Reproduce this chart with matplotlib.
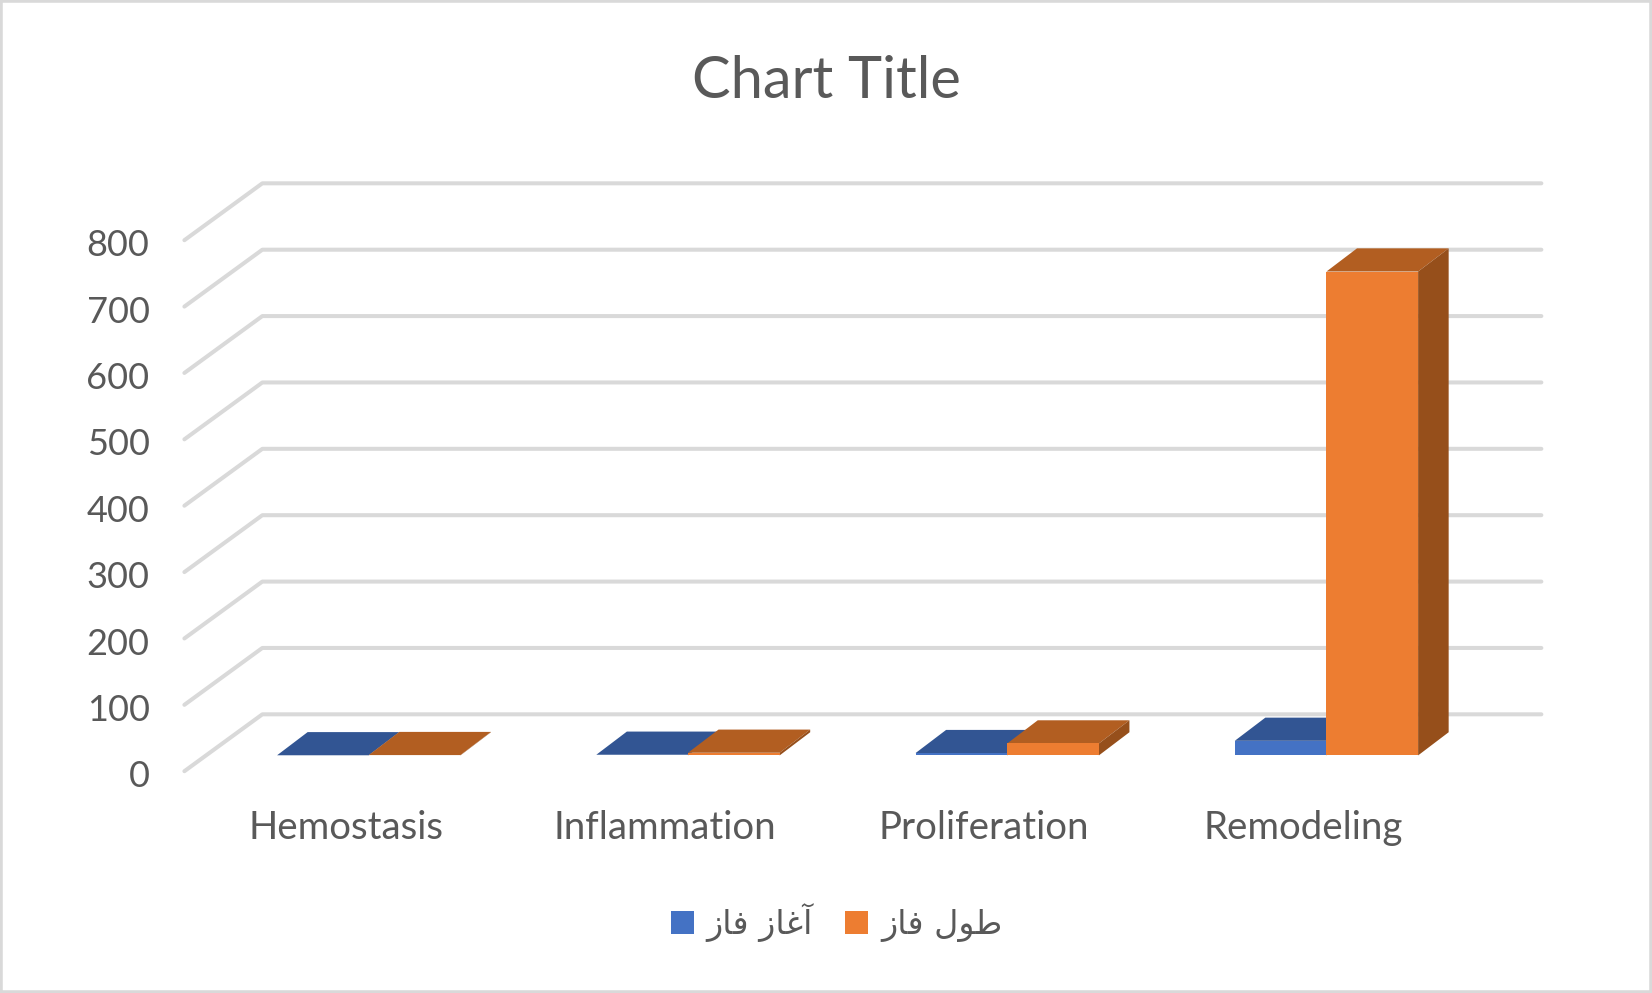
import matplotlib
matplotlib.use("Agg")
import matplotlib.pyplot as plt
from matplotlib.patches import Polygon, Rectangle

categories = ["Hemostasis", "Inflammation", "Proliferation", "Remodeling"]
start_values = [0.2, 1, 3.5, 22]
length_values = [0.5, 4, 18, 729]
y_ticks = [0, 100, 200, 300, 400, 500, 600, 700, 800]
# Persian labels in shaped presentation forms, visual order (matplotlib does no Arabic shaping)
series_labels = ["\ufeaf\ufe8e\ufed3 \ufeaf\ufe8e\ufecf\ufe81", "\ufeaf\ufe8e\ufed3 \ufedd\ufeee\ufec3"]
title_text = "Chart Title"

W, H = 1652, 993
REF = W / 1568          # reference layout measured on a 1568-wide view
PX_X = 303.0            # layout units per category
PX_Y = 0.63             # layout units per value
X0, Y0 = 350.0, 717.0   # position of category 0 / value 0 on the bar plane

def fx(d): return (d - X0) / PX_X
def fy(d): return (Y0 - d) / PX_Y

bar_w = 87 / PX_X
bar_dx, bar_dy = 29 / PX_X, 22 / PX_Y
wall_x0, wall_x1 = fx(249), fx(1463)
floor_x0 = fx(175)
wall_off = fy(678)
front_off = fy(732)
label_off = fy(734.5)

BLUE, BLUE_TOP, BLUE_SIDE = "#4472C4", "#325593", "#284477"
ORANGE, ORANGE_TOP, ORANGE_SIDE = "#ED7D31", "#B25E21", "#964F1B"
GRID = "#D9D9D9"
TEXT = "#595959"

fig = plt.figure(figsize=(W / 100, H / 100), dpi=100, facecolor="white")
L, R, T, B = 175, 1463, 174, 745
ax = fig.add_axes([L * REF / W, 1 - B * REF / H, (R - L) * REF / W, (B - T) * REF / H])
ax.patch.set_visible(False)
for s in ax.spines.values():
    s.set_visible(False)

for v in y_ticks:
    ax.plot([floor_x0, wall_x0, wall_x1], [v + front_off, v + wall_off, v + wall_off],
            color=GRID, lw=2.9, solid_capstyle="round", solid_joinstyle="round",
            clip_on=False, zorder=1)

def bar3d(xs, values, front, top, side, z):
    ax.bar(xs, values, width=bar_w, align="edge", color=front, linewidth=0, zorder=z + 0.2)
    for x, v in zip(xs, values):
        ax.add_patch(Polygon([(x, v), (x + bar_w, v), (x + bar_w + bar_dx, v + bar_dy), (x + bar_dx, v + bar_dy)],
                             closed=True, facecolor=top, edgecolor="none", zorder=z))
        ax.add_patch(Polygon([(x + bar_w, 0), (x + bar_w + bar_dx, bar_dy), (x + bar_w + bar_dx, v + bar_dy), (x + bar_w, v)],
                             closed=True, facecolor=side, edgecolor="none", zorder=z + 0.1))

pos = list(range(len(categories)))
bar3d([p - bar_w for p in pos], start_values, BLUE, BLUE_TOP, BLUE_SIDE, 2)
bar3d(pos, length_values, ORANGE, ORANGE_TOP, ORANGE_SIDE, 3)

ax.set_yticks([v + label_off for v in y_ticks], [str(v) for v in y_ticks])
ax.set_xticks([p - 22 / PX_X for p in pos], categories)
ax.set_xlim(fx(L), fx(R))
ax.set_ylim(fy(B), fy(T))
ax.tick_params(axis="y", length=0, pad=33 * REF * 0.72, labelsize=26, labelcolor=TEXT)
ax.tick_params(axis="x", length=0, pad=24 * REF * 0.72, labelsize=27.6, labelcolor=TEXT)
for lab in ax.get_xticklabels() + ax.get_yticklabels():
    lab.set_fontfamily(["Lato", "DejaVu Sans"])

fig.text(784 * REF / W, 1 - 77 * REF / H, title_text, ha="center", va="center",
         fontsize=41.6, color=TEXT, family=["Lato", "DejaVu Sans"])

handles = [Rectangle((0, 0), 1, 1, facecolor=BLUE, edgecolor="none"),
           Rectangle((0, 0), 1, 1, facecolor=ORANGE, edgecolor="none")]
leg = fig.legend(handles, series_labels, loc="center", ncol=2, frameon=False,
                 bbox_to_anchor=(794 * REF / W, 1 - 876 * REF / H),
                 prop={"family": "DejaVu Sans", "size": 24},
                 labelcolor=TEXT, handlelength=0.69, handleheight=0.69,
                 handletextpad=0.38, columnspacing=0.98)

fig.add_artist(Rectangle((0, 0), 1, 1, transform=fig.transFigure, fill=False,
                         edgecolor=GRID, linewidth=4))
fig.savefig("out.png", dpi=100)
